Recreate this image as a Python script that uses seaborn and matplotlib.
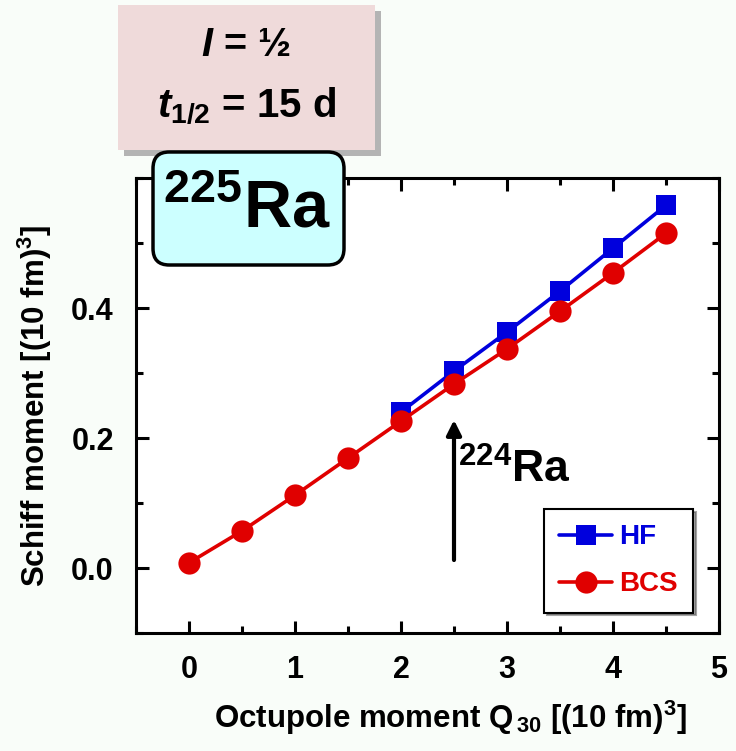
import matplotlib
matplotlib.use("Agg")
import matplotlib.pyplot as plt
from matplotlib.patches import FancyBboxPatch, Rectangle
from matplotlib.ticker import MultipleLocator, FixedLocator
import seaborn as sns
import pandas as pd

sns.set_theme(style="ticks")
plt.rcParams['font.family'] = ['Liberation Sans', 'DejaVu Sans']
plt.rcParams['font.weight'] = 'bold'
plt.rcParams['mathtext.fontset'] = 'custom'
plt.rcParams['mathtext.rm'] = 'Liberation Sans:bold'
plt.rcParams['mathtext.it'] = 'Liberation Sans:italic:bold'
plt.rcParams['mathtext.bf'] = 'Liberation Sans:bold'
plt.rcParams['mathtext.default'] = 'rm'
for k in ['text.color', 'axes.labelcolor', 'xtick.color', 'ytick.color', 'axes.edgecolor']:
    plt.rcParams[k] = 'black'

# Data
q30_bcs = [0.0, 0.5, 1.0, 1.5, 2.0, 2.5, 3.0, 3.5, 4.0, 4.5]
schiff_bcs = [0.008, 0.057, 0.112, 0.169, 0.226, 0.283, 0.337, 0.395, 0.454, 0.515]
q30_hf = [2.0, 2.5, 3.0, 3.5, 4.0, 4.5]
schiff_hf = [0.240, 0.303, 0.363, 0.426, 0.492, 0.558]
x_ticks = [0, 1, 2, 3, 4, 5]
y_ticks = [0.0, 0.2, 0.4]

df_hf = pd.DataFrame({"Q30": q30_hf, "S": schiff_hf})
df_bcs = pd.DataFrame({"Q30": q30_bcs, "S": schiff_bcs})

W, H = 736, 751
fig = plt.figure(figsize=(W / 100, H / 100), dpi=100)
fig.patch.set_facecolor('#F9FDF9')

left, right, top, bottom = 136, 719, 178, 633
ax = fig.add_axes([left / W, 1 - bottom / H, (right - left) / W, (bottom - top) / H])
ax.set_facecolor('white')

sns.lineplot(data=df_hf, x="Q30", y="S", ax=ax, color='#0000DD', marker='s',
             markersize=15, linewidth=2.6, markeredgewidth=0, label='HF')
sns.lineplot(data=df_bcs, x="Q30", y="S", ax=ax, color='#E00000', marker='o',
             markersize=16, linewidth=2.6, markeredgewidth=0, label='BCS')

ax.set_xlim(-0.5, 5.0)
ax.set_ylim(-0.1, 0.6)
ax.xaxis.set_major_locator(FixedLocator(x_ticks))
ax.xaxis.set_minor_locator(MultipleLocator(0.5))
ax.yaxis.set_major_locator(FixedLocator(y_ticks))
ax.yaxis.set_minor_locator(MultipleLocator(0.1))
ax.set_xticklabels([str(t) for t in x_ticks])
ax.set_yticklabels([f"{t:.1f}" for t in y_ticks])

for s in ax.spines.values():
    s.set_linewidth(2.2)
    s.set_color('black')
    s.set_visible(True)
ax.tick_params(which='both', direction='in', top=True, right=True, width=2.2, color='black')
ax.tick_params(which='major', length=9, labelsize=22, pad=16)
ax.tick_params(which='minor', length=5)
for lab in ax.get_xticklabels() + ax.get_yticklabels():
    lab.set_fontweight('bold')

ax.set_xlabel(r"Octupole moment Q$_{\,30}$ [(10 fm)$^{3}$]", fontsize=22.5, fontweight='bold', labelpad=10)
ax.xaxis.label.set_x(0.54)
ax.set_ylabel(r"Schiff moment [(10 fm)$^{3}$]", fontsize=22.5, fontweight='bold', labelpad=12)

leg = ax.legend(loc='lower right', bbox_to_anchor=(0.955, 0.045), fontsize=20, frameon=True,
                fancybox=False, shadow=True, handlelength=1.9, borderpad=0.55,
                labelspacing=0.75, handletextpad=0.25, markerscale=1.0, borderaxespad=0)
leg.get_frame().set_edgecolor('black')
leg.get_frame().set_linewidth(1.5)
for txt, c in zip(leg.get_texts(), ['#0000DD', '#E00000']):
    txt.set_color(c)
    txt.set_fontweight('bold')

# 224Ra arrow
ax.annotate("", xy=(2.5, 0.232), xytext=(2.5, 0.008),
            arrowprops=dict(arrowstyle='-|>', color='black', lw=3, mutation_scale=22))
ax.text(2.54, 0.131, r"$^{224}$Ra", fontsize=32, fontweight='bold', ha='left', va='baseline')

# Pink box with shadow
def px(x, y):
    return x / W, 1 - y / H

sx, sy = px(124, 156)
fig.patches.append(Rectangle((sx, sy), (375 - 118) / W, (150 - 5) / H,
                             transform=fig.transFigure, facecolor='#B4B4B4', edgecolor='none', zorder=5))
bx, by = px(118, 150)
fig.patches.append(Rectangle((bx, by), (375 - 118) / W, (150 - 5) / H,
                             transform=fig.transFigure, facecolor='#EFDADA', edgecolor='none', zorder=6))
fig.text(246 / W, 1 - 45 / H, r"$\mathit{I}$ = ½", fontsize=28.5, ha='center', va='center',
         fontweight='bold', zorder=7)
fig.text(247 / W, 1 - 106 / H, r"$\mathit{t}_{1/2}$ = 15 d", fontsize=29, ha='center', va='center',
         fontweight='bold', zorder=7)

# Cyan rounded box
cx, cy = px(153, 265)
fig.patches.append(FancyBboxPatch((cx, cy), (344 - 153) / W, (265 - 152) / H,
                                  boxstyle="round,pad=0,rounding_size=0.022",
                                  transform=fig.transFigure, facecolor='#CCFFFF',
                                  edgecolor='black', linewidth=2.5, zorder=6))
fig.text(247 / W, 1 - 211 / H, r"$^{225}$Ra", fontsize=48, ha='center', va='center',
         fontweight='bold', zorder=7)

fig.savefig("out.png", dpi=100, facecolor=fig.get_facecolor())
